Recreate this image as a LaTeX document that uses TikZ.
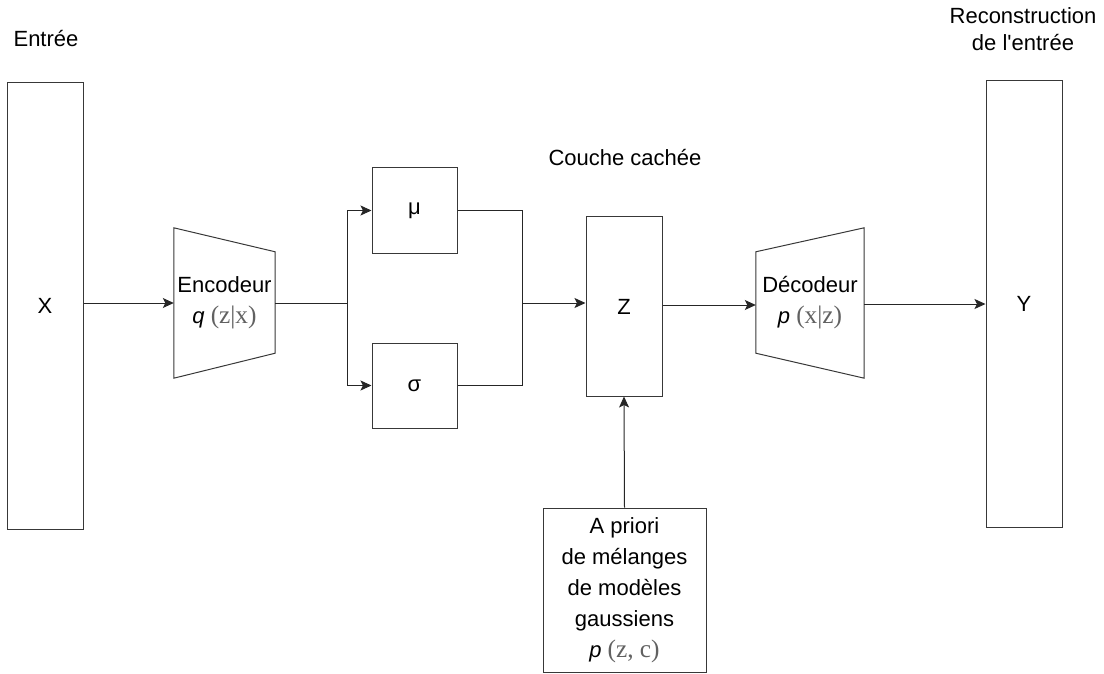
\documentclass[tikz,border=0pt]{standalone}
\usepackage[no-math]{fontspec}
\setmainfont{Liberation Sans}
\newfontfamily\mathserif[Scale=1.15]{Liberation Serif}
\usetikzlibrary{positioning, arrows.meta, calc}
\colorlet{edge}{black!78}
\colorlet{mathgray}{black!62}
\newcommand{\probtext}[2]{\textit{#1} {\mathserif\color{mathgray}(#2)}}
\tikzset{
  blk/.style    ={draw=edge, line width=1pt, fill=white, inner sep=0pt,
                  align=center, font=\fontsize{22}{31}\selectfont},
  hold/.style   ={inner sep=0pt, align=center, font=\fontsize{22}{31}\selectfont},
  shapeline/.style={draw=edge, line width=1pt, line join=miter},
  lbl/.style    ={align=center, font=\fontsize{22}{27}\selectfont},
  wire/.style   ={-, black!85, line width=1pt},
  flow/.style   ={-{Stealth[length=11pt, width=10pt, inset=2.5pt]}, black!85, line width=1pt},
}

\begin{document}
\begin{tikzpicture}[x=1pt, y=-1pt]
\useasboundingbox (0,0) rectangle (1104,674);

% --- top labels ---
\node[lbl] (inlbl)  at (46,39)   {Entrée};
\node[lbl] (hidlbl) at (625,158) {Couche cachée};
\node[lbl] (outlbl) at (1023,29) {Reconstruction\\de l\textquotesingle entrée};

% --- input / output columns ---
\node[blk, minimum width=76pt, minimum height=446pt] (inp) at (45,306)   {X};
\node[blk, minimum width=76pt, minimum height=446pt] (out) at (1024,304) {Y};

% --- encoder (narrowing) ---
\node[hold, minimum width=101pt, minimum height=150pt] (enc) at (224.5,303)
     {Encodeur\\\probtext{q}{z|x}};
\draw[shapeline] (enc.north west) -- ($(enc.north east)+(0,24)$)
                 -- ($(enc.south east)+(0,-25)$) -- (enc.south west) -- cycle;

% --- mean / deviation ---
\node[blk, minimum width=85pt, minimum height=85pt] (mu)  at (414.5,210.5) {μ};
\node[blk, minimum width=85pt, minimum height=85pt] (sig) at (414.5,385.5) {σ};

% --- latent ---
\node[blk, minimum width=76pt, minimum height=179pt] (z) at (624,306.5) {Z};

% --- decoder (widening) ---
\node[hold, minimum width=108pt, minimum height=150pt] (dec) at (810,303)
     {\rule{0pt}{12pt}Décodeur\\\probtext{p}{x|z}};
\draw[shapeline] ($(dec.north west)+(0,24)$) -- (dec.north east)
                 -- (dec.south east) -- ($(dec.south west)+(0,-25)$) -- cycle;

% --- prior ---
\node[blk, minimum width=163pt, minimum height=164pt] (prior) at (624.5,590)
     {A priori\\de mélanges\\de modèles\\gaussiens\\\probtext{p}{z, c}};

% --- connectors ---
\coordinate (split) at (347,303);
\coordinate (join)  at (522,303);
\draw[flow] (inp.east |- enc.west) -- (enc.west);
\draw[wire] (enc.east) -- (split);
\draw[flow] (split) |- (mu.west);
\draw[flow] (split) |- (sig.west);
\draw[wire] (mu.east) -| (join);
\draw[wire] (sig.east) -| (join);
\draw[flow] (join) -- (join -| z.west);
\draw[flow] (z.east |- 0,305) -- (dec.west |- 0,305);
\draw[flow] (dec.east |- 0,304) -- (out.west |- 0,304);
\draw[flow] (prior.north) -- (z.south);

\end{tikzpicture}
\end{document}
